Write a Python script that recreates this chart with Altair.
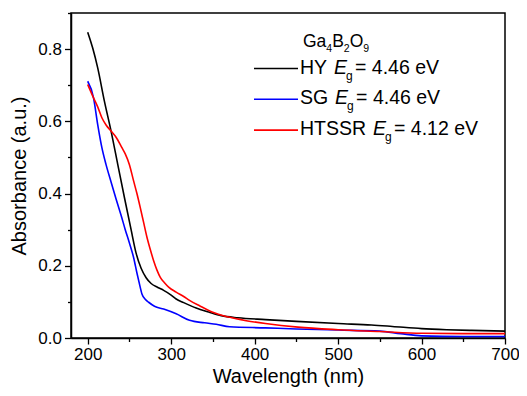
import altair as alt
import pandas as pd

# ---------------- data ----------------
hy_nm = [200, 206, 212, 220, 228, 236, 244, 252, 258, 264, 270, 276, 284, 291, 300, 306, 315, 330, 345, 360, 380, 413, 450, 500, 540, 565, 600, 630, 660, 700]
hy_abs = [0.847, 0.803, 0.748, 0.656, 0.573, 0.481, 0.389, 0.30, 0.235, 0.193, 0.167, 0.151, 0.14, 0.132, 0.119, 0.108, 0.098, 0.083, 0.072, 0.062, 0.056, 0.051, 0.046, 0.040, 0.036, 0.032, 0.026, 0.023, 0.021, 0.019]

sg_nm = [200, 207, 212, 217, 222, 228, 234, 240, 245, 250, 255, 259, 262, 265, 269, 273, 280, 291, 306, 322, 340, 354, 370, 413, 450, 500, 550, 575, 600, 650, 700]
sg_abs = [0.711, 0.665, 0.591, 0.527, 0.48, 0.432, 0.385, 0.34, 0.30, 0.263, 0.223, 0.18, 0.15, 0.122, 0.107, 0.099, 0.088, 0.08, 0.067, 0.049, 0.042, 0.038, 0.031, 0.028, 0.025, 0.022, 0.019, 0.012, 0.006, 0.004, 0.004]

ht_nm = [200, 207, 212, 217, 222, 228, 234, 241, 245, 250, 255, 259, 263, 267, 271, 275, 279, 283, 287, 292, 297, 306, 315, 322, 335, 349, 369, 390, 413, 452, 500, 550, 600, 650, 700]
ht_abs = [0.702, 0.665, 0.64, 0.61, 0.59, 0.573, 0.556, 0.527, 0.51, 0.48, 0.435, 0.40, 0.361, 0.32, 0.279, 0.245, 0.214, 0.188, 0.168, 0.153, 0.141, 0.127, 0.115, 0.104, 0.088, 0.072, 0.058, 0.048, 0.040, 0.030, 0.023, 0.018, 0.013, 0.012, 0.012]

series_names = ["HY", "SG", "HTSSR"]
series_colors = ["#000000", "#0000ff", "#ff0000"]
band_gaps = ["4.46", "4.46", "4.12"]

x_ticks = [200, 250, 300, 350, 400, 450, 500, 550, 600, 650, 700]
y_ticks = [0.0, 0.1, 0.2, 0.3, 0.4, 0.5, 0.6, 0.7, 0.8, 0.9]

# ---------------- layout helpers ----------------
FONT = "Liberation Sans"
PAD_L, PAD_T, PAD_R, PAD_B = 63, 5, 14, 50
W = 434
H = 325
OX = 8 + PAD_L   # page x of plot left edge
OY = 8 + PAD_T   # page y of plot top edge

ARIAL = {"H": .722, "Y": .667, "S": .667, "G": .778, "T": .611, "R": .722, "E": .667,
         " ": .278, "a": .556, "B": .667, "O": .778, "g": .556}

def tw(s, fs):
    return sum(ARIAL.get(c, .556) for c in s) * fs

rows = []
for s, c, n in zip([hy_nm, sg_nm, ht_nm], [hy_abs, sg_abs, ht_abs], series_names):
    for xv, yv in zip(s, c):
        rows.append({"nm": xv, "abs": yv, "series": n})
df = pd.DataFrame(rows)

x_scale = alt.Scale(domain=[180, 700], nice=False, zero=False)
y_scale = alt.Scale(domain=[0, 0.9], nice=False, zero=False)

x_axis = alt.Axis(
    values=x_ticks, title="Wavelength (nm)",
    labelExpr="datum.value % 100 === 0 ? datum.label : ''",
    tickSize={"condition": {"test": "datum.value % 100 === 0", "value": 6}, "value": 3.5},
    grid=False, labelFontSize=17, titleFontSize=20, labelPadding=2, titlePadding=4,
    labelFont=FONT, titleFont=FONT, titleFontWeight="normal",
    domainColor="black", tickColor="black", labelColor="black", titleColor="black",
    domainWidth=1.5, tickWidth=1.3, labelFlush=False,
)
y_axis = alt.Axis(
    values=y_ticks, title="Absorbance (a.u.)", format=".1f",
    labelExpr="round(datum.value*10) % 2 === 0 ? datum.label : ''",
    tickSize={"condition": {"test": "round(datum.value*10) % 2 === 0", "value": 6.5}, "value": 3.5},
    grid=False, labelFontSize=17, titleFontSize=20, labelPadding=3, titlePadding=8,
    labelFont=FONT, titleFont=FONT, titleFontWeight="normal",
    domainColor="black", tickColor="black", labelColor="black", titleColor="black",
    domainWidth=1.5, tickWidth=1.3, labelFlush=False,
)

color_scale = alt.Scale(domain=series_names, range=series_colors)

lines = alt.Chart(df).mark_line(strokeWidth=1.6, interpolate="monotone").encode(
    x=alt.X("nm:Q", scale=x_scale, axis=x_axis),
    y=alt.Y("abs:Q", scale=y_scale, axis=y_axis),
    color=alt.Color("series:N", scale=color_scale, legend=None),
    detail="series:N",
)

# ---------------- custom legend (positions given in page pixels) ----------------
LF = 19.5
SF = 12
x0 = 300 - OX
base0 = 73.5 - OY
step = 30.8
leg = []
ital = []
for i, (n, g) in enumerate(zip(series_names, band_gaps)):
    b = base0 + i * step
    ex = x0 + tw(n + " ", LF) + 1.5
    leg.append({"px": x0, "py": b, "txt": n, "fs": LF})
    ital.append({"px": ex, "py": b, "txt": "E", "fs": LF})
    leg.append({"px": ex + 12, "py": b + 6, "txt": "g", "fs": SF})
    leg.append({"px": ex + 21, "py": b, "txt": "= " + g + " eV", "fs": LF})

# title Ga4B2O9
TF = 17.5
TS = 10.5
tb = 46.5 - OY
tx = 303 - OX
title_parts = [("Ga", False), ("4", True), ("B", False), ("2", True), ("O", False), ("9", True)]
for p, sub in title_parts:
    fs = TS if sub else TF
    leg.append({"px": tx, "py": tb + (5 if sub else 0), "txt": p, "fs": fs})
    tx += tw(p, fs)
leg_df = pd.DataFrame(leg)
ital_df = pd.DataFrame(ital)

legend_text = alt.Chart(leg_df).mark_text(align="left", baseline="alphabetic", font=FONT, color="black").encode(
    x=alt.X("px:Q", scale=None),
    y=alt.Y("py:Q", scale=None),
    text="txt:N",
    size=alt.Size("fs:Q", scale=None),
)
legend_ital = alt.Chart(ital_df).mark_text(align="left", baseline="alphabetic", font=FONT, color="black",
                                           fontStyle="italic").encode(
    x=alt.X("px:Q", scale=None),
    y=alt.Y("py:Q", scale=None),
    text="txt:N",
    size=alt.Size("fs:Q", scale=None),
)

sw_df = pd.DataFrame({
    "x1": [254 - OX] * 3, "x2": [298 - OX] * 3,
    "yy": [base0 - 5 + i * step for i in range(3)],
    "series": series_names,
})
legend_lines = alt.Chart(sw_df).mark_rule(strokeWidth=1.6).encode(
    x=alt.X("x1:Q", scale=None),
    x2="x2:Q",
    y=alt.Y("yy:Q", scale=None),
    color=alt.Color("series:N", scale=color_scale, legend=None),
)

chart = alt.layer(lines, legend_lines, legend_text, legend_ital).properties(
    width=W, height=H,
    padding={"left": PAD_L, "top": PAD_T, "right": PAD_R, "bottom": PAD_B},
    autosize=alt.AutoSizeParams(type="none"),
    background="white",
).configure_view(stroke="black", strokeWidth=1.5)

chart.save("out.html", embed_options={"renderer": "svg", "actions": False})
